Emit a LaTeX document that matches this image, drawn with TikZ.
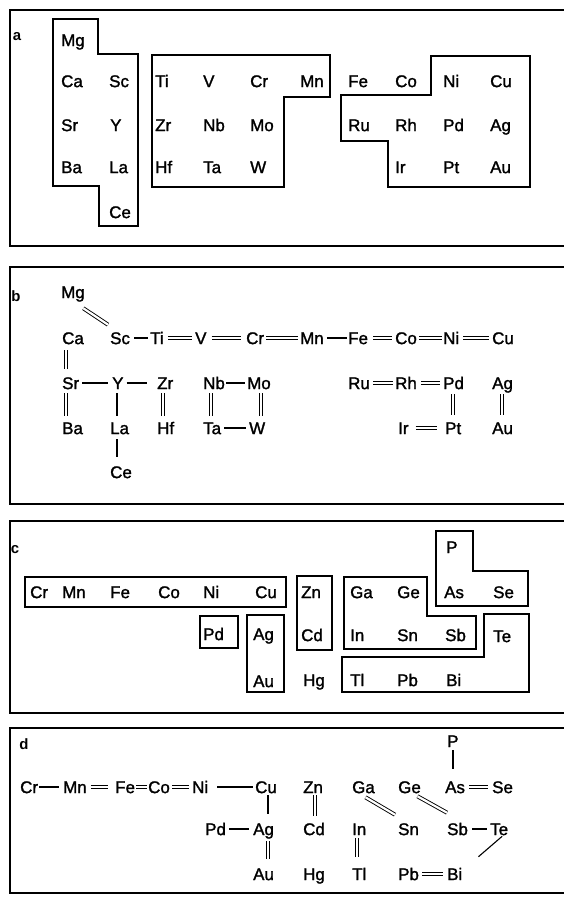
\documentclass[tikz,border=0pt]{standalone}
\usepackage{fontspec}
\setmainfont{Liberation Sans}
\newfontfamily\elfont{Liberation Sans}[FakeBold=1.5]
\usetikzlibrary{calc}
\tikzset{
  el/.style={inner sep=0pt, anchor=west, text height=12.2bp, text depth=0pt, font=\elfont\fontsize{17}{17}\selectfont},
  lab/.style={inner sep=0pt, font=\bfseries\fontsize{15}{15}\selectfont},
  frame/.style={line width=1.8bp},
  grp/.style={line width=1.3bp, line join=miter},
  sb/.style={line width=1.1bp},
  db/.style={double, double distance=2.2bp, line width=0.9bp},
}
\newcommand\hbond[5]{\draw[#1] ([xshift=#4bp]#2.east) -- ([xshift=-#5bp]#3.west);}
% style, upper, lower, dx, gap top, gap bottom
\newcommand\vbond[6]{\draw[#1] ($(#2.south west)+(#4,#5)$) -- ($(#2.south west |- #3.north)+(#4,-#6)$);}
\begin{document}
\begin{tikzpicture}[x=1bp,y=-1bp]
\useasboundingbox (0,0) rectangle (564,901);
\fill[white] (0,0) rectangle (564,901);

% ---------- frames ----------
\draw[frame] (564,10) -- (10,10) -- (10,246) -- (564,246);
\draw[frame] (564,267) -- (10,267) -- (10,504) -- (564,504);
\draw[frame] (564,521) -- (10,521) -- (10,713) -- (564,713);
\draw[frame] (564,728) -- (10,728) -- (10,893) -- (564,893);

\node[lab] (la) at (17,37) {a};
\node[lab] (lb) at (16,296) {b};
\node[lab] (lc) at (15,550) {c};
\node[lab] (ld) at (24,744) {d};

% ---------- panel a ----------
\foreach \n/\x/\y in {Mg/61/40, Ca/61/81, Sc/109/81, Ti/155/81, V/203/81, Cr/250/81, Mn/300/81,
  Fe/348/81, Co/395/81, Ni/443/81, Cu/490/81,
  Sr/61/125, Y/110/125, Zr/155/125, Nb/203/125, Mo/250/125, Ru/348/125, Rh/395/125, Pd/443/125, Ag/490/125,
  Ba/61/167, La/109/167, Hf/155/167, Ta/203/167, W/250/167, Ir/395/167, Pt/443/167, Au/490/167,
  Ce/109/212}
  \node[el] (a\n) at (\x,\y) {\n};

\draw[grp] (53,19) -- (98,19) -- (98,54) -- (138,54) -- (138,226) -- (99,226) -- (99,186) -- (53,186) -- cycle;
\draw[grp] (152,55) -- (330,55) -- (330,97) -- (284,97) -- (284,187) -- (152,187) -- cycle;
\draw[grp] (431,56) -- (530,56) -- (530,187) -- (388,187) -- (388,141) -- (341,141) -- (341,95) -- (431,95) -- cycle;

% ---------- panel b ----------
\foreach \n/\x/\y in {Mg/61/292, Ca/62/338, Sc/110/338, Ti/150/338, V/195/338, Cr/246/338, Mn/300/338,
  Fe/348/338, Co/395/338, Ni/443/338, Cu/492/338,
  Sr/62/383, Y/112/383, Zr/157/383, Nb/203/383, Mo/247/383, Ru/348/383, Rh/395/383, Pd/443/383, Ag/492/383,
  Ba/62/428, La/110/428, Hf/157/428, Ta/203/428, W/249/428, Ir/398/428, Pt/445/428, Au/492/428,
  Ce/110/472}
  \node[el] (b\n) at (\x,\y) {\n};

\draw[db] ([xshift=-1.6bp,yshift=-10bp]bMg.south east) -- ([xshift=-2bp,yshift=7bp]bSc.north west);
\hbond{sb}{bSc}{bTi}{4}{2}
\hbond{db}{bTi}{bV}{4}{3}
\hbond{db}{bV}{bCr}{5}{5}
\hbond{db}{bCr}{bMn}{2}{2}
\hbond{sb}{bMn}{bFe}{3}{1}
\hbond{db}{bFe}{bCo}{5}{3}
\hbond{db}{bCo}{bNi}{2}{1}
\hbond{db}{bNi}{bCu}{4}{3}
\vbond{db}{bCa}{bSr}{4}{6}{8}
\vbond{db}{bSr}{bBa}{4}{4}{6}
\hbond{sb}{bSr}{bY}{3}{4}
\hbond{sb}{bY}{bZr}{3}{10}
\vbond{sb}{bY}{bLa}{5}{4}{6}
\vbond{sb}{bLa}{bCe}{7}{5}{9}
\vbond{db}{bZr}{bHf}{6}{4}{6}
\hbond{sb}{bNb}{bMo}{1}{2}
\vbond{db}{bNb}{bTa}{8}{4}{6}
\vbond{db}{bMo}{bW}{14}{4}{6}
\hbond{sb}{bTa}{bW}{3}{3}
\hbond{db}{bRu}{bRh}{3}{2}
\hbond{db}{bRh}{bPd}{4}{3}
\hbond{db}{bIr}{bPt}{7}{8}
\vbond{db}{bPd}{bPt}{10}{5}{7}
\vbond{db}{bAg}{bAu}{10}{5}{7}

% ---------- panel c ----------
\foreach \n/\x/\y in {P/446/547, Cr/30/592, Mn/62/592, Fe/110/592, Co/158/592, Ni/203/592, Cu/255/592,
  Zn/301/592, Ga/350/592, Ge/397/592, As/444/592, Se/493/592,
  Pd/203/634, Ag/253/634, Cd/301/635, In/350/635, Sn/397/635, Sb/445/635, Te/493/636,
  Au/253/681, Hg/303/680, Tl/350/680, Pb/397/680, Bi/446/680}
  \node[el] (c\n) at (\x,\y) {\n};

\draw[grp] (25,577) rectangle (286,607);
\draw[grp] (200,616) rectangle (238,648);
\draw[grp] (247,615) rectangle (284,692);
\draw[grp] (297,576) rectangle (332,650);
\draw[grp] (344,577) -- (427,577) -- (427,616) -- (476,616) -- (476,649) -- (344,649) -- cycle;
\draw[grp] (436,531) -- (473,531) -- (473,571) -- (528,571) -- (528,606) -- (436,606) -- cycle;
\draw[grp] (484,614) -- (529,614) -- (529,692) -- (342,692) -- (342,657) -- (484,657) -- cycle;

% ---------- panel d ----------
\foreach \n/\x/\y in {P/447/741, Cr/20/787, Mn/63/787, Fe/115/787, Co/148/787, Ni/192/787, Cu/255/787,
  Zn/303/787, Ga/352/787, Ge/398/787, As/445/787, Se/492/787,
  Pd/205/829, Ag/253/829, Cd/303/829, In/352/829, Sn/398/829, Sb/447/829, Te/490/829,
  Au/253/874, Hg/303/874, Tl/352/874, Pb/398/874, Bi/447/874}
  \node[el] (d\n) at (\x,\y) {\n};

\hbond{sb}{dCr}{dMn}{1}{4}
\hbond{db}{dMn}{dFe}{4}{7}
\hbond{db}{dFe}{dCo}{1}{1}
\hbond{db}{dCo}{dNi}{2}{3}
\hbond{sb}{dNi}{dCu}{9}{2}
\vbond{sb}{dCu}{dAg}{13}{2}{9}
\hbond{sb}{dPd}{dAg}{3}{4}
\vbond{db}{dAg}{dAu}{15}{6}{9}
\vbond{db}{dZn}{dCd}{12}{2}{7}
\vbond{db}{dIn}{dTl}{5}{3}{11}
\draw[db] ([xshift=2bp,yshift=-4bp]dGa.south) -- ([xshift=-3bp,yshift=8bp]dSn.north west);
\draw[db] ([xshift=8bp,yshift=-3bp]dGe.south) -- ([xshift=0bp,yshift=10bp]dSb.north west);
\vbond{sb}{dP}{dAs}{6}{3}{12}
\hbond{db}{dAs}{dSe}{4}{4}
\hbond{sb}{dSb}{dTe}{4}{3}
\hbond{db}{dPb}{dBi}{3}{4}
\draw[sb] ([xshift=3bp,yshift=-1bp]dTe.south) -- ([xshift=16bp,yshift=11bp]dBi.north east);
\end{tikzpicture}
\end{document}
